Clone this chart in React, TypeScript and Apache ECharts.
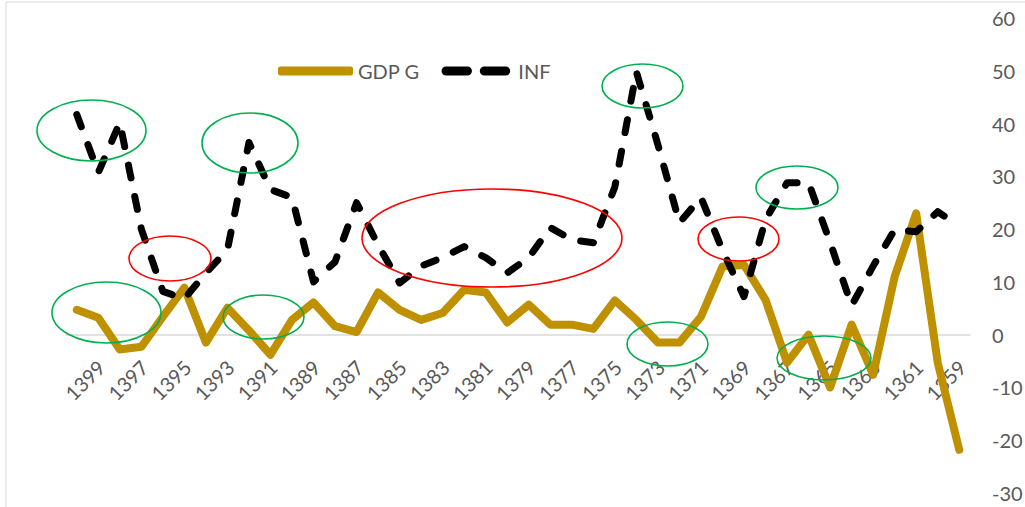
import React, { useEffect, useRef } from "react";
import * as echarts from "echarts";

const years: string[] = [
  "1399", "1398", "1397", "1396", "1395", "1394", "1393", "1392", "1391", "1390",
  "1389", "1388", "1387", "1386", "1385", "1384", "1383", "1382", "1381", "1380",
  "1379", "1378", "1377", "1376", "1375", "1374", "1373", "1372", "1371", "1370",
  "1369", "1368", "1367", "1366", "1365", "1364", "1363", "1362", "1361", "1360",
  "1359", "1358",
];

const gdpG: number[] = [
  4.7, 3.2, -2.8, -2.3, 3.4, 8.9, -1.5, 5.1, 0.8, -3.8,
  2.8, 6.1, 1.6, 0.5, 8.0, 4.7, 2.8, 4.1, 8.5, 8.0,
  2.3, 5.7, 1.9, 1.9, 1.1, 6.5, 2.8, -1.5, -1.5, 3.4,
  12.9, 13.2, 6.6, -5.3, 0, -10, 1.9, -7.6, 11, 23,
  -5.3, -21.8,
];

const inf: number[] = [
  41.7, 30.7, 40.2, 20.0, 8.2, 6.8, 11.7, 16.1, 36.4, 27.5,
  26.0, 10.0, 13.8, 25.0, 17.0, 9.8, 13.0, 14.6, 16.7, 14.6,
  11.7, 14.6, 20.3, 18.0, 17.4, 28.0, 49.8, 36.0, 21.2, 26.0,
  16.0, 7.2, 21.8, 28.8, 28.8, 17.5, 5.5, 13.0, 19.9, 19.5,
  23.3, 20.5,
];

const seriesNames: string[] = ["GDP G", "INF"];

// annotation ellipses: [cx, cy, rx, ry, color]
const green = "#00B050";
const red = "#FF0000";
const ellipses: [number, number, number, number, string][] = [
  [91.5, 130.5, 54.5, 30.5, green],
  [250, 143, 48, 30, green],
  [170, 258.5, 41, 22.5, red],
  [106.5, 312.5, 54.5, 30.5, green],
  [263.5, 317, 40.5, 22, green],
  [492, 238, 130, 49, red],
  [642.5, 86, 40.5, 22, green],
  [738.5, 239, 40.5, 22, red],
  [797, 187.5, 41, 21.5, green],
  [667.5, 344, 40.5, 22, green],
  [824, 358, 47, 22, green],
];

export default function App() {
  const ref = useRef<HTMLDivElement>(null);
  useEffect(() => {
    if (!ref.current) return;
    const chart = echarts.init(ref.current, undefined, { renderer: "svg" });
    const font = "Lato, 'Open Sans', sans-serif";
    chart.setOption({
      animation: false,
      backgroundColor: "#ffffff",
      textStyle: { fontFamily: font },
      legend: {
        left: 273,
        top: 56,
        itemWidth: 75,
        itemHeight: 9,
        itemGap: 22,
        textStyle: { fontSize: 20, color: "#595959", fontFamily: font },
        data: [
          { name: seriesNames[0], icon: "roundRect" },
          {
            name: seriesNames[1],
            icon: "path://M4,0h19a4,4 0 0 1 0,8h-19a4,4 0 0 1 0,-8z M38,0h19a4,4 0 0 1 0,8h-19a4,4 0 0 1 0,-8z",
          },
        ],
      },
      grid: [
        { left: 66, width: 904, top: 18, height: 475, outerBoundsMode: "none", containLabel: false },
        { left: 74, width: 904, top: 18, height: 317, outerBoundsMode: "none", containLabel: false },
      ],
      xAxis: [
        {
          type: "category",
          gridIndex: 0,
          data: years,
          boundaryGap: true,
          axisLine: { onZero: true, lineStyle: { color: "#d9d9d9", width: 1.5 } },
          axisTick: { show: false },
          axisLabel: { show: false },
        },
        {
          type: "category",
          gridIndex: 1,
          data: years,
          boundaryGap: true,
          axisLine: { show: false, onZero: false },
          axisTick: { show: false },
          axisLabel: {
            interval: 1,
            rotate: 45,
            align: "center",
            verticalAlign: "middle",
            margin: 45,
            fontSize: 20,
            color: "#595959",
            fontFamily: font,
          },
        },
      ],
      yAxis: [
        {
          type: "value",
          gridIndex: 0,
          position: "right",
          min: -30,
          max: 60,
          interval: 10,
          splitLine: { show: false },
          axisLine: { show: false },
          axisTick: { show: false },
          axisLabel: { margin: 22, fontSize: 20, color: "#595959", fontFamily: font },
        },
        {
          type: "value",
          gridIndex: 1,
          show: false,
          min: 0,
          max: 60,
          splitLine: { show: false },
        },
      ],
      series: [
        {
          name: seriesNames[0],
          type: "line",
          data: gdpG,
          symbol: "none",
          z: 2,
          lineStyle: { color: "#BF9000", width: 8, cap: "round", join: "round" },
          itemStyle: { color: "#BF9000" },
        },
        {
          name: seriesNames[1],
          type: "line",
          data: inf,
          symbol: "none",
          z: 3,
          lineStyle: {
            color: "#000000",
            width: 7,
            type: [13, 19],
            cap: "round",
            join: "round",
          },
          itemStyle: { color: "#000000" },
        },
      ],
      graphic: [
        {
          type: "rect",
          shape: { x: 6, y: 2, width: 1200, height: 700 },
          style: { fill: "none", stroke: "#d9d9d9", lineWidth: 1 },
          silent: true,
          z: 0,
        },
        ...ellipses.map(([cx, cy, rx, ry, c]) => ({
          type: "ellipse",
          shape: { cx, cy, rx, ry },
          style: { fill: "none", stroke: c, lineWidth: 1.6 },
          silent: true,
          z: 10,
        })),
      ],
    });
    return () => chart.dispose();
  }, []);
  return (
    <div
      ref={ref}
      style={{ position: "absolute", left: 0, top: 0, width: 1025, height: 507 }}
    />
  );
}
